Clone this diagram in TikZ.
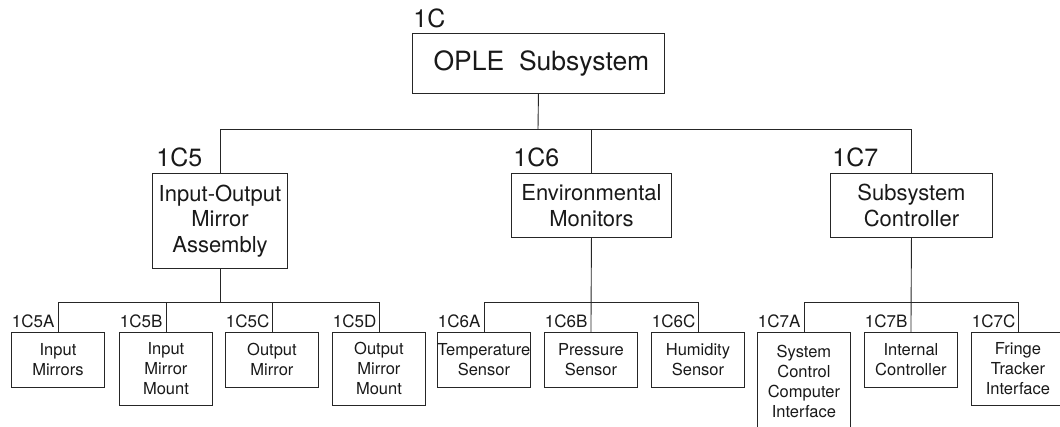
\documentclass[tikz,border=0pt]{standalone}
\usepackage{fontspec}
\setmainfont{TeX Gyre Heros}
\begin{document}
\begin{tikzpicture}[x=1pt,y=-1pt,
  line width=0.9pt, draw=black!85,
  every node/.style={text=black!90},
  topbox/.style={draw, inner sep=0pt, anchor=north west, align=center,
    minimum width=252pt, minimum height=60pt, font=\fontsize{26.5}{30}\selectfont},
  midbox/.style={draw, inner sep=0pt, anchor=north west, align=center,
    minimum height=64pt, font=\fontsize{22}{25.5}\selectfont},
  lowbox/.style={draw, inner sep=0pt, anchor=north west, align=center,
    minimum width=93pt, minimum height=55pt, font=\fontsize{16.5}{20}\selectfont},
  toplbl/.style={inner sep=0pt, anchor=base west, font=\fontsize{25}{28}\selectfont},
  midlbl/.style={inner sep=0pt, anchor=base west, font=\fontsize{25}{28}\selectfont},
  lowlbl/.style={inner sep=0pt, anchor=base west, font=\fontsize{17}{20}\selectfont}
]
\useasboundingbox (0,0) rectangle (1060,426);
\clip (0,0) rectangle (1060,426);

% top
\node[topbox] (top) at (412,33) {\hspace*{6pt}OPLE\ \ Subsystem};
\node[toplbl] at ([xshift=1pt,yshift=6pt]top.north west) {1C};

% level 2
\node[midbox, minimum width=135pt, minimum height=95pt] (c5) at (152,173) {Input-Output\\Mirror\\Assembly};
\node[midbox, minimum width=160pt] (c6) at (511,173) {Environmental\\Monitors};
\node[midbox, minimum width=162pt] (c7) at (830,173) {Subsystem\\Controller};
\node[midlbl] at ([xshift=4pt,yshift=7pt]c5.north west) {1C5};
\node[midlbl] at ([xshift=2pt,yshift=7pt]c6.north west) {1C6};
\node[midlbl] at ([xshift=2pt,yshift=7pt]c7.north west) {1C7};

\coordinate (bus1) at (538,129);
\draw (top.south) -- (bus1);
\draw (c5.north) |- (c7.north|-bus1) -- (c7.north);
\draw (c6.north) -- (c6.north|-bus1);

% level 3 : 1C5
\node[lowbox] (c5a) at (11,332) {Input\\Mirrors};
\node[lowbox, minimum height=73pt] (c5b) at (119,332) {Input\\Mirror\\Mount};
\node[lowbox] (c5c) at (225,332) {Output\\Mirror};
\node[lowbox, minimum height=73pt] (c5d) at (332,332) {Output\\Mirror\\Mount};
% level 3 : 1C6
\node[lowbox] (c6a) at (437,332) {Temperature\\Sensor};
\node[lowbox] (c6b) at (544,332) {Pressure\\Sensor};
\node[lowbox] (c6c) at (651,332) {Humidity\\Sensor};
% level 3 : 1C7
\node[lowbox, minimum height=98pt] (c7a) at (757,332) {System\\Control\\Computer\\Interface};
\node[lowbox] (c7b) at (864,332) {Internal\\Controller};
\node[lowbox, minimum height=73pt] (c7c) at (971,332) {Fringe\\Tracker\\Interface};

\foreach \n/\t in {c5a/1C5A,c5b/1C5B,c5c/1C5C,c5d/1C5D,c6a/1C6A,c6b/1C6B,c6c/1C6C,c7a/1C7A,c7b/1C7B,c7c/1C7C}
  \node[lowlbl] at ([xshift=0.5pt,yshift=5pt]\n.north west) {\t};

\coordinate (bus2) at (0,302);
\draw (c5.south) -- (c5.south|-bus2);
\draw (c5a.north) |- (c5d.north|-bus2) -- (c5d.north);
\draw (c5b.north) -- (c5b.north|-bus2);
\draw (c5c.north) -- (c5c.north|-bus2);

\draw (c6.south) -- (c6b.north);
\draw (c6a.north) |- (c6c.north|-bus2) -- (c6c.north);

\draw (c7.south) -- (c7b.north);
\draw (c7a.north) |- (c7c.north|-bus2) -- (c7c.north);
\end{tikzpicture}
\end{document}
